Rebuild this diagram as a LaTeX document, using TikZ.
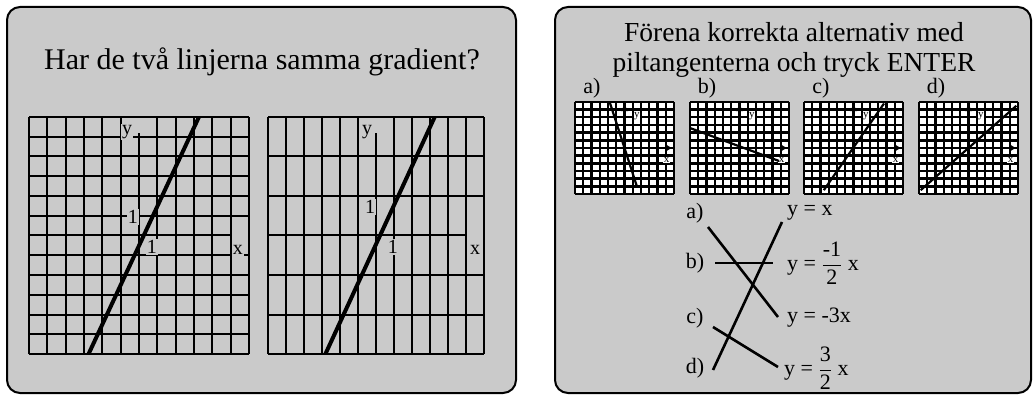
\documentclass[tikz,border=0pt]{standalone}
\usepackage{fontspec}
\setmainfont{Liberation Serif}
\usetikzlibrary{arrows.meta}

\definecolor{panelgray}{RGB}{202,202,202}

\tikzset{
  panel/.style={draw=black,line width=2pt,rounded corners=13pt,fill=panelgray},
  gridline/.style={line width=2pt},
  graphline/.style={line width=4pt},
  smallgrid/.style={line width=2.4pt},
  smallgraph/.style={line width=2.2pt},
  axisarrow/.style={line width=2.8pt,-{Triangle[length=6pt,width=7pt]}},
  title/.style={font=\fontsize{30}{34}\selectfont,inner sep=0pt},
  tag/.style={font=\fontsize{22}{26}\selectfont,inner sep=1pt},
  axislabel/.style={font=\fontsize{20}{22}\selectfont,inner sep=1pt,fill=panelgray},
  smalllabel/.style={font=\fontsize{11}{12}\selectfont,inner sep=0.5pt,fill=white},
  match/.style={line width=2.6pt},
}

\begin{document}
\begin{tikzpicture}[x=1pt,y=-1pt]
  \useasboundingbox (0,0) rectangle (1033,395);
  % the two panels
  \draw[panel] (7,7) rectangle (516,393);
  \draw[panel] (555,7) rectangle (1031,393);

  % left panel
  \node[title] (lefttitle) at (262,62) {Har de två linjerna samma gradient?};

  % first graph, square cells
  \begin{scope}[shift={(29,354)},x=18.33pt,y=19.75pt]
    \foreach \i in {0,1,2,3,4,5,7,8,9,10,11,12} {
      \draw[gridline] (\i,0) -- (\i,12);
      \draw[gridline] (0,\i) -- (12,\i);
    }
    \draw[gridline] (6,0) -- (6,11.2);
    \draw[gridline] (0,6) -- (11.1,6);
    \node[axislabel] (ya) at (5.35,11.24) {y};
    \node[axislabel] (ya1) at (5.67,6.94) {1};
    \node[axislabel] (xa1) at (6.71,5.42) {1};
    \node[axislabel] (xa) at (11.4,5.27) {x};
    \draw[graphline] (3.25,0) -- (9.27,12);
  \end{scope}

  % second graph, tall cells
  \begin{scope}[shift={(268,354)},x=18pt,y=39.5pt]
    \foreach \i in {0,1,2,3,4,5,7,8,9,10,11,12} {
      \draw[gridline] (\i,0) -- (\i,6);
    }
    \foreach \j in {0,1,2,4,5,6} {
      \draw[gridline] (0,\j) -- (12,\j);
    }
    \draw[gridline] (6,0) -- (6,5.6);
    \draw[gridline] (0,3) -- (11.05,3);
    \node[axislabel] (yb) at (5.5,5.62) {y};
    \node[axislabel] (yb1) at (5.67,3.72) {1};
    \node[axislabel] (xb1) at (6.94,2.71) {1};
    \node[axislabel] (xb) at (11.5,2.63) {x};
    \draw[graphline] (3.19,0) -- (9.26,6);
  \end{scope}

  % right panel
  \node[title,font=\fontsize{27.5}{30}\selectfont,align=center] (righttitle) at (794,50)
    {Förena korrekta alternativ med\\piltangenterna och tryck ENTER};

  \foreach \gx/\tagname/\from/\to in {575/a/{(4.2,12)}/{(7.5,1)},
      690/b/{(0,8.6)}/{(10.8,4.3)},
      804/c/{(2.4,0.5)}/{(9.7,11.8)},
      919/d/{(0.2,0.5)}/{(11.8,11.5)}} {
    \node[tag] (tag\tagname) at ({\gx+17},88) {\tagname)};
    \begin{scope}[shift={(\gx,194)},x=8.25pt,y=7.67pt]
      \fill[white] (0,0) rectangle (12,12);
      \draw[smallgrid] (0,0) grid[step=1] (12,12);
      \draw[axisarrow] (6,0) -- (6,11.6);
      \draw[axisarrow] (0,6) -- (11.7,6);
      \node[smalllabel] (ysmall\tagname) at (7.5,10.2) {y};
      \node[smalllabel] (xsmall\tagname) at (11.1,4.4) {x};
      \draw[smallgraph] \from -- \to;
    \end{scope}
  }

  % matching
  \node[tag] (la) at (695,213) {a)};
  \node[tag] (lb) at (695,263) {b)};
  \node[tag] (lc) at (695,318) {c)};
  \node[tag] (ld) at (695,368) {d)};
  \node[tag,anchor=west] (ea) at (786,213) {y = x};
  \node[tag,anchor=west] (eb) at (786,263) {y = $\displaystyle\frac{\textrm{-1}}{\textrm{2}}$ x};
  \node[tag,anchor=west] (ec) at (786,318) {y = -3x};
  \node[tag,anchor=west] (ed) at (783,368) {y = $\displaystyle\frac{\textrm{3}}{\textrm{2}}$ x};

  \draw[match] ([shift={(13,14)}]la.center) -- ([shift={(-8,-1)}]ec.west);
  \draw[match] ([shift={(20,0)}]lb.center) -- ([shift={(-13,0)}]eb.west);
  \draw[match] ([shift={(18,9)}]lc.center) -- ([shift={(-5,-1)}]ed.west);
  \draw[match] ([shift={(18,2)}]ld.center) -- ([shift={(-4,9)}]ea.west);
\end{tikzpicture}
\end{document}
